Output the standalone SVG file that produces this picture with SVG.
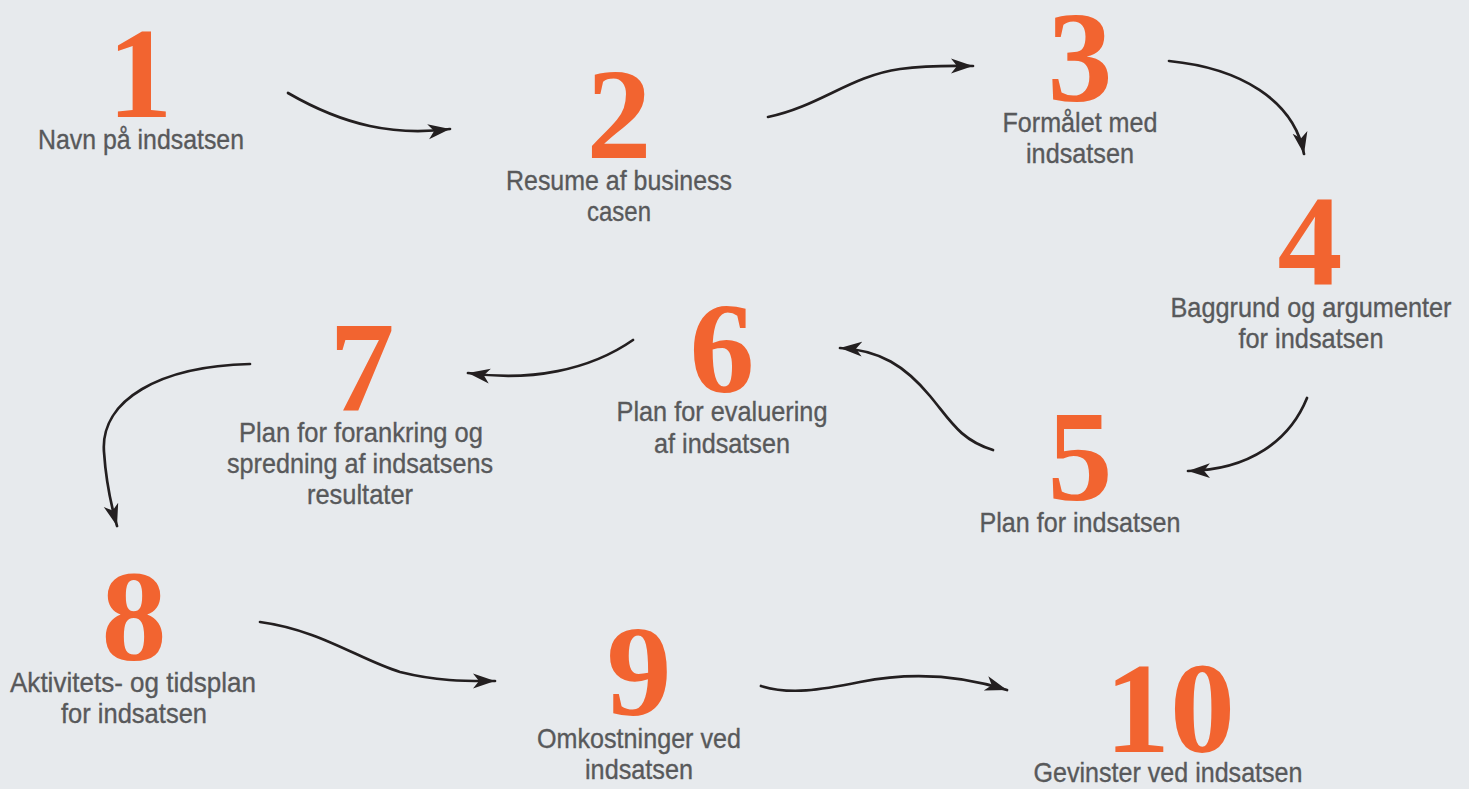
<svg xmlns="http://www.w3.org/2000/svg" width="1469" height="789" viewBox="0 0 1469 789">
  <defs>
    <style>
      .num { font-family: "Liberation Serif", "Times New Roman", serif; font-weight: bold; font-size: 130px; fill: #f26430; text-anchor: middle; }
      .lbl { font-family: "Liberation Sans", Arial, sans-serif; font-size: 28px; fill: #58595b; stroke: #58595b; stroke-width: 0.35; text-anchor: middle; }
      .arrow { fill: none; stroke: #231f20; stroke-width: 2.7; stroke-linecap: round; marker-end: url(#head); }
    </style>
    <marker id="head" markerUnits="userSpaceOnUse" markerWidth="24" markerHeight="18" viewBox="0 0 24 18" refX="22" refY="9" orient="auto">
      <path d="M0,1.5 L22,9 L0,16.5 L6,9 Z" fill="#231f20"/>
    </marker>
  </defs>

  <rect width="1469" height="789" fill="#e7eaed"/>

  <!-- connectors -->
  <g id="connectors">
    <path class="arrow" d="M288,93 C345,126 395,136 450,129"/>
    <path class="arrow" d="M768,117 C820,106 850,76 900,69 C930,65 955,66 973,66"/>
    <path class="arrow" d="M1169,61 C1240,68 1294,100 1304,154"/>
    <path class="arrow" d="M1307,398 C1290,440 1250,470 1188,471"/>
    <path class="arrow" d="M993,450 C960,440 950,420 930,396 C905,366 880,350 840,348"/>
    <path class="arrow" d="M633,340 C590,370 530,382 468,373"/>
    <path class="arrow" d="M250,364 C160,366 100,400 104,452 C106,482 111,505 117,526"/>
    <path class="arrow" d="M260,622 C320,630 360,660 400,672 C440,682 470,681 495,681"/>
    <path class="arrow" d="M761,686 C790,695 820,690 860,682 C910,672 960,675 1007,690"/>
  </g>

  <!-- steps -->
  <g id="step1">
    <text class="num" x="140" y="117">1</text>
    <text class="lbl" x="141" y="149" textLength="206" lengthAdjust="spacingAndGlyphs">Navn på indsatsen</text>
  </g>
  <g id="step2">
    <text class="num" x="619" y="158">2</text>
    <text class="lbl" x="619" y="190" textLength="226" lengthAdjust="spacingAndGlyphs">Resume af business</text>
    <text class="lbl" x="619" y="221" textLength="64" lengthAdjust="spacingAndGlyphs">casen</text>
  </g>
  <g id="step3">
    <text class="num" x="1080" y="101">3</text>
    <text class="lbl" x="1080" y="132" textLength="155" lengthAdjust="spacingAndGlyphs">Formålet med</text>
    <text class="lbl" x="1080" y="163" textLength="108" lengthAdjust="spacingAndGlyphs">indsatsen</text>
  </g>
  <g id="step4">
    <text class="num" x="1310" y="285">4</text>
    <text class="lbl" x="1311" y="317" textLength="281" lengthAdjust="spacingAndGlyphs">Baggrund og argumenter</text>
    <text class="lbl" x="1311" y="348" textLength="145" lengthAdjust="spacingAndGlyphs">for indsatsen</text>
  </g>
  <g id="step5">
    <text class="num" x="1080" y="500">5</text>
    <text class="lbl" x="1080" y="532" textLength="201" lengthAdjust="spacingAndGlyphs">Plan for indsatsen</text>
  </g>
  <g id="step6">
    <text class="num" x="722" y="392">6</text>
    <text class="lbl" x="722" y="421" textLength="211" lengthAdjust="spacingAndGlyphs">Plan for evaluering</text>
    <text class="lbl" x="722" y="453" textLength="136" lengthAdjust="spacingAndGlyphs">af indsatsen</text>
  </g>
  <g id="step7">
    <text class="num" x="362" y="411">7</text>
    <text class="lbl" x="361" y="442" textLength="244" lengthAdjust="spacingAndGlyphs">Plan for forankring og</text>
    <text class="lbl" x="360" y="473" textLength="266" lengthAdjust="spacingAndGlyphs">spredning af indsatsens</text>
    <text class="lbl" x="360" y="504" textLength="106" lengthAdjust="spacingAndGlyphs">resultater</text>
  </g>
  <g id="step8">
    <text class="num" x="134" y="660">8</text>
    <text class="lbl" x="133" y="692" textLength="246" lengthAdjust="spacingAndGlyphs">Aktivitets- og tidsplan</text>
    <text class="lbl" x="134" y="723" textLength="146" lengthAdjust="spacingAndGlyphs">for indsatsen</text>
  </g>
  <g id="step9">
    <text class="num" x="639" y="715">9</text>
    <text class="lbl" x="639" y="748" textLength="204" lengthAdjust="spacingAndGlyphs">Omkostninger ved</text>
    <text class="lbl" x="639" y="779" textLength="108" lengthAdjust="spacingAndGlyphs">indsatsen</text>
  </g>
  <g id="step10">
    <text class="num" x="1170" y="752">10</text>
    <text class="lbl" x="1168" y="782" textLength="269" lengthAdjust="spacingAndGlyphs">Gevinster ved indsatsen</text>
  </g>
</svg>
